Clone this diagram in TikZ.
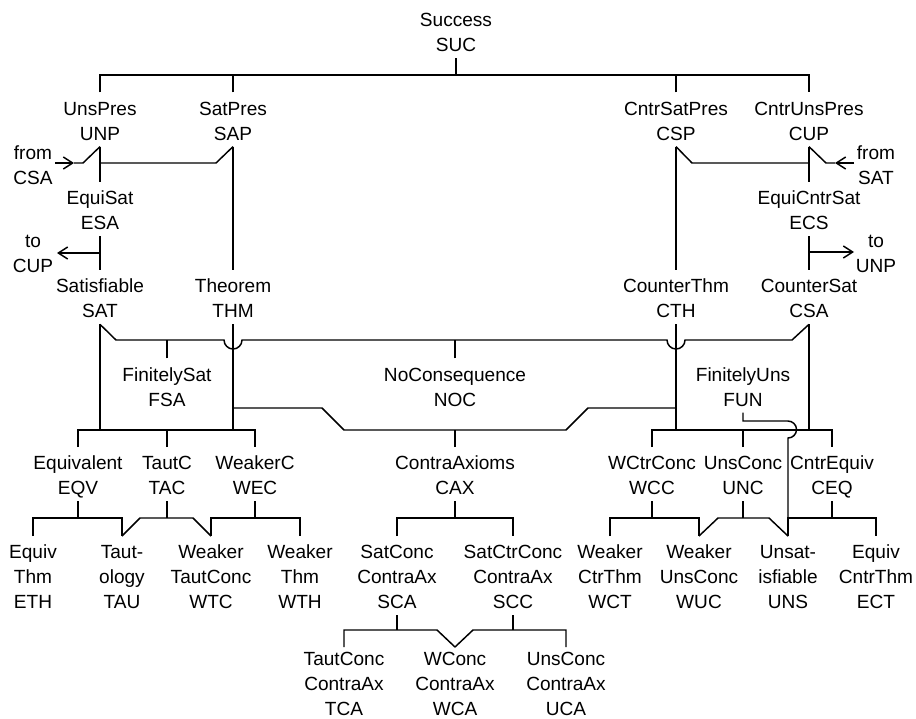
\documentclass[tikz,border=0pt]{standalone}
\usepackage{fontspec}
\setmainfont{Liberation Sans}
\usetikzlibrary{arrows.meta}
\newcommand\Ts{\rule{0pt}{17.1pt}}
\newcommand\Tsb{\rule{0pt}{13.7pt}}
\newcommand\Bs{\rule[-4.9pt]{0pt}{4.9pt}}
\begin{document}
\begin{tikzpicture}[x=0.75pt,y=-0.75pt,line width=1.1pt,
  lbl/.style={anchor=north,align=center,inner sep=0pt,outer sep=0pt,font=\fontsize{14.3}{18.75}\selectfont},
  txt/.style={align=center,inner sep=0pt,outer sep=0pt,font=\fontsize{14.3}{18.75}\selectfont},
  arr/.style={-{Straight Barb[length=7pt,width=9pt]}}]
\path[use as bounding box,fill=white] (0,0) rectangle (916,718);
% nodes
\node[lbl] (suc) at (456,3.7) {\Ts Success\\SUC\Bs};
\node[lbl] (unp) at (100,92.3) {\Ts UnsPres\\UNP\Bs};
\node[lbl] (sap) at (233,92.3) {\Ts SatPres\\SAP\Bs};
\node[lbl] (csp) at (676,92.3) {\Ts CntrSatPres\\CSP\Bs};
\node[lbl] (cup) at (809,92.3) {\Ts CntrUnsPres\\CUP\Bs};
\node[lbl] (esa) at (100,181.7) {\Ts EquiSat\\ESA\Bs};
\node[lbl] (ecs) at (809,181.7) {\Ts EquiCntrSat\\ECS\Bs};
\node[lbl] (sat) at (100,270) {\Ts Satisfiable\\SAT\Bs};
\node[lbl] (thm) at (233,270) {\Ts Theorem\\THM\Bs};
\node[lbl] (cth) at (676,270) {\Ts CounterThm\\CTH\Bs};
\node[lbl] (csa) at (809,270) {\Ts CounterSat\\CSA\Bs};
\node[lbl] (fsa) at (167,358.3) {\Ts FinitelySat\\FSA\Bs};
\node[lbl] (noc) at (455,358.3) {\Ts NoConsequence\\NOC\Bs};
\node[lbl] (fun) at (743,358.3) {\Ts FinitelyUns\\FUN\Bs};
\node[lbl] (eqv) at (78,447) {\Ts Equivalent\\EQV\Bs};
\node[lbl] (tac) at (167,447) {\Ts TautC\\TAC\Bs};
\node[lbl] (wec) at (255,447) {\Ts WeakerC\\WEC\Bs};
\node[lbl] (cax) at (455,447) {\Ts ContraAxioms\\CAX\Bs};
\node[lbl] (wcc) at (652,447) {\Ts WCtrConc\\WCC\Bs};
\node[lbl] (unc) at (743,447) {\Ts UnsConc\\UNC\Bs};
\node[lbl] (ceq) at (832,447) {\Ts CntrEquiv\\CEQ\Bs};
\node[lbl] (eth) at (33,536) {\Ts Equiv\\Thm\\ETH\Bs};
\node[lbl] (tau) at (122,536) {\Ts Taut-\\ology\\TAU\Bs};
\node[lbl] (wtc) at (211,536) {\Ts Weaker\\TautConc\\WTC\Bs};
\node[lbl] (wth) at (300,536) {\Ts Weaker\\Thm\\WTH\Bs};
\node[lbl] (sca) at (397,536) {\Ts SatConc\\ContraAx\\SCA\Bs};
\node[lbl] (scc) at (513,536) {\Ts SatCtrConc\\ContraAx\\SCC\Bs};
\node[lbl] (wct) at (610,536) {\Ts Weaker\\CtrThm\\WCT\Bs};
\node[lbl] (wuc) at (699,536) {\Ts Weaker\\UnsConc\\WUC\Bs};
\node[lbl] (uns) at (788,536) {\Ts Unsat-\\isfiable\\UNS\Bs};
\node[lbl] (ect) at (876,536) {\Ts Equiv\\CntrThm\\ECT\Bs};
\node[lbl] (tca) at (344,647) {\Tsb TautConc\\ContraAx\\TCA\Bs};
\node[lbl] (wca) at (455,647) {\Tsb WConc\\ContraAx\\WCA\Bs};
\node[lbl] (uca) at (566,647) {\Tsb UnsConc\\ContraAx\\UCA\Bs};
\node[txt] (fromcsa) at (33,165.5) {from\\CSA};
\node[txt] (tocup) at (33,254) {to\\CUP};
\node[txt] (fromsat) at (876,165.5) {from\\SAT};
\node[txt] (tounp) at (876,254) {to\\UNP};
% top level
\draw (suc.south) -- (456,75);
\draw (unp.north) -- (100,75) -- (809,75) -- (cup.north);
\draw (sap.north) -- (233,75);
\draw (csp.north) -- (676,75);
% left upper
\draw (unp.south) -- (esa.north);
\draw (sap.south) -- (216,163) -- (100,163);
\draw (sap.south) -- (thm.north);
\coordinate (fc0) at (55,163);
\coordinate (fc1) at (74,163);
\draw[arr] (fc0) -- (fc1);
\draw (fc1) -- (83,163) -- (unp.south);
\draw (esa.south) -- (sat.north);
\coordinate (tc0) at (100,253);
\coordinate (tc1) at (57,253);
\draw[arr] (tc0) -- (tc1);
% right upper
\draw (cup.south) -- (ecs.north);
\draw (csp.south) -- (692,163) -- (809,163);
\draw (csp.south) -- (cth.north);
\coordinate (fs0) at (854,163);
\coordinate (fs1) at (835,163);
\draw[arr] (fs0) -- (fs1);
\draw (fs1) -- (826,163) -- (cup.south);
\draw (ecs.south) -- (csa.north);
\coordinate (tu0) at (809,252);
\coordinate (tu1) at (854,252);
\draw[arr] (tu0) -- (tu1);
% SAT / CSA level line with hops
\draw (sat.south) -- (116,340) -- (224,340) arc[start angle=180,end angle=0,radius=9]
  -- (667,340) arc[start angle=180,end angle=0,radius=9] -- (792,340) -- (csa.south);
\draw (fsa.north) -- (167,340);
\draw (noc.north) -- (455,340);
% left bracket
\draw (sat.south) -- (100,430);
\draw (thm.south) -- (233,430);
\draw (eqv.north) -- (78,430) -- (255,430) -- (wec.north);
\draw (tac.north) -- (167,430);
% THM-CTH to CAX
\draw (233,408) -- (322,408) -- (344,430) -- (566,430) -- (588,408) -- (676,408);
\draw (cax.north) -- (455,430);
% right bracket
\draw (cth.south) -- (676,430);
\draw (csa.south) -- (809,430);
\draw (wcc.north) -- (652,430) -- (832,430) -- (ceq.north);
\draw (unc.north) -- (743,430);
\draw (fun.south) -- (743,421) -- (788,421) arc[start angle=-90,end angle=90,radius=8.5] -- (uns.north);
% row 4 left
\draw (eqv.south) -- (78,518);
\draw (eth.north) -- (33,518) -- (122,518) -- (tau.north);
\draw (tac.south) -- (167,518);
\draw (tau.north) -- (140,518) -- (193,518) -- (wtc.north);
\draw (wec.south) -- (255,518);
\draw (wtc.north) -- (211,518) -- (300,518) -- (wth.north);
\draw (cax.south) -- (455,518);
\draw (sca.north) -- (397,518) -- (513,518) -- (scc.north);
% row 4 right
\draw (wcc.south) -- (652,518);
\draw (wct.north) -- (610,518) -- (699,518) -- (wuc.north);
\draw (unc.south) -- (743,518);
\draw (wuc.north) -- (718,518) -- (769,518) -- (uns.north);
\draw (ceq.south) -- (832,518);
\draw (uns.north) -- (788,518) -- (876,518) -- (ect.north);
% row 5
\draw (sca.south) -- (397,630);
\draw (tca.north) -- (344,630) -- (437,630) -- (wca.north);
\draw (scc.south) -- (513,630);
\draw (wca.north) -- (473,630) -- (566,630) -- (uca.north);
\end{tikzpicture}
\end{document}
